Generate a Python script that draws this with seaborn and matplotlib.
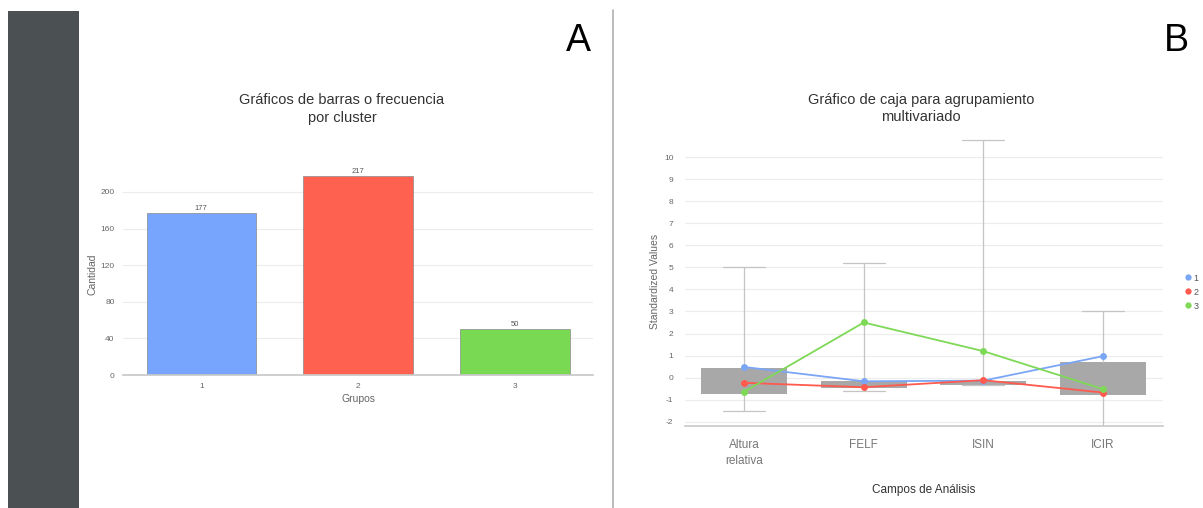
import matplotlib
matplotlib.use("Agg")
import matplotlib.pyplot as plt
import seaborn as sns
import pandas as pd
import numpy as np
from matplotlib.lines import Line2D
from matplotlib.patches import Rectangle

sns.set_theme(style="white")
plt.rcParams['font.family'] = ['Liberation Sans', 'DejaVu Sans']
plt.rcParams['axes.unicode_minus'] = False

# ---------------- data ----------------
grupos = ["1", "2", "3"]
cantidad = [177, 217, 50]
bar_colors = ["#77a4fc", "#ff6150", "#79d952"]

campos = ["Altura\nrelativa", "FELF", "ISIN", "ICIR"]
box_q1 = [-0.75, -0.47, -0.32, -0.77]
box_q3 = [0.42, -0.15, -0.14, 0.71]
box_med = [-0.15, -0.30, -0.22, -0.05]
whis_lo = [-1.50, -0.61, -0.32, -2.20]
whis_hi = [5.00, 5.22, 10.78, 3.00]

cluster_1 = [0.48, -0.17, -0.14, 0.97]
cluster_2 = [-0.24, -0.44, -0.12, -0.68]
cluster_3 = [-0.64, 2.50, 1.20, -0.52]
clusters = ["1", "2", "3"]
line_colors = ["#7aa6f5", "#ff5a4e", "#7ed957"]

yticks_a = [0, 40, 80, 120, 160, 200]
yticks_b = list(range(-2, 11))

# ---------------- figure ----------------
W, H = 1203, 508
fig = plt.figure(figsize=(W / 100, H / 100), dpi=100)
fig.patch.set_facecolor("white")

# dark side panel and divider
fig.add_artist(Rectangle((8 / W, 0), 71 / W, 1 - 11 / H, transform=fig.transFigure,
                         facecolor="#4b5052", edgecolor="none", zorder=-5))
fig.add_artist(Line2D([612.5 / W, 612.5 / W], [0, 1 - 10 / H], transform=fig.transFigure,
                      color="#b0b0b0", lw=1.2))

fig.text(578 / W, 1 - 41 / H, "A", fontsize=27, ha="center", va="center", color="black")
fig.text(1176 / W, 1 - 41 / H, "B", fontsize=27, ha="center", va="center", color="black")

tick_gray = "#666666"
grid_gray = "#ececec"

# ---------------- panel A ----------------
axA = fig.add_axes([123 / W, 1 - 375 / H, 470 / W, (375 - 173.7) / H])
dfA = pd.DataFrame({"Grupos": grupos, "Cantidad": cantidad})
sns.barplot(data=dfA, x="Grupos", y="Cantidad", hue="Grupos", palette=bar_colors,
            width=0.7, legend=False, ax=axA, edgecolor="#8a8a8a", linewidth=0.5,
            saturation=1)
for cont in axA.containers:
    axA.bar_label(cont, fontsize=5.5, color="#555555", padding=1)
axA.set_ylim(0, 220)
axA.set_xlim(-0.5, 2.5)
axA.set_yticks(yticks_a)
axA.yaxis.grid(True, color=grid_gray, lw=0.8)
axA.set_axisbelow(True)
for s in ["top", "right", "left"]:
    axA.spines[s].set_visible(False)
axA.spines["bottom"].set_color("#c8c8c8")
axA.tick_params(axis="y", length=0, labelsize=6, labelcolor=tick_gray, pad=6)
axA.tick_params(axis="x", length=3, color="#c8c8c8", labelsize=6, labelcolor=tick_gray, pad=3)
axA.set_xlabel("Grupos", fontsize=7.5, color=tick_gray, labelpad=3)
axA.set_ylabel("Cantidad", fontsize=7.5, color=tick_gray, labelpad=2)
fig.text(342 / W, 1 - 100 / H, "Gráficos de barras o frecuencia", fontsize=10.5,
         ha="center", va="center", color="#333333")
fig.text(342 / W, 1 - 118 / H, "por cluster", fontsize=10.5,
         ha="center", va="center", color="#333333")

# ---------------- panel B ----------------
axB = fig.add_axes([684.5 / W, 1 - 426 / H, 478 / W, (426 - 137.5) / H])
stats = [dict(q1=a, q3=b, med=m, whislo=lo, whishi=hi, label=c)
         for a, b, m, lo, hi, c in zip(box_q1, box_q3, box_med, whis_lo, whis_hi, campos)]
pos = np.arange(len(campos))
axB.bxp(stats, positions=pos, widths=0.72, capwidths=0.35, patch_artist=True,
        showfliers=False,
        boxprops=dict(facecolor="#a8a8a8", edgecolor="none", lw=0),
        whiskerprops=dict(color="#c4c4c4", lw=0.9),
        capprops=dict(color="#c4c4c4", lw=0.9),
        medianprops=dict(lw=0, color="#a8a8a8"), zorder=2)

dfB = pd.DataFrame({
    "pos": np.concatenate([pos, pos, pos]),
    "valor": cluster_1 + cluster_2 + cluster_3,
    "cluster": [clusters[0]] * 4 + [clusters[1]] * 4 + [clusters[2]] * 4,
})
sns.lineplot(data=dfB, x="pos", y="valor", hue="cluster", palette=line_colors,
             marker="o", markersize=5, markeredgewidth=0, lw=1.3, ax=axB,
             legend=False, zorder=3)

axB.set_xlim(-0.5, 3.5)
axB.set_ylim(-2.2, 10.9)
axB.set_yticks(yticks_b)
axB.set_xticks(pos)
axB.set_xticklabels(campos, linespacing=1.5)
axB.yaxis.grid(True, color=grid_gray, lw=0.8)
axB.set_axisbelow(True)
for s in ["top", "right", "left"]:
    axB.spines[s].set_visible(False)
axB.spines["bottom"].set_color("#c8c8c8")
axB.spines["bottom"].set_linewidth(1.2)
axB.tick_params(axis="y", length=0, labelsize=6, labelcolor=tick_gray, pad=8)
axB.tick_params(axis="x", length=3, color="#c8c8c8", labelsize=8.5, labelcolor="#777777", pad=6)
axB.set_xlabel("Campos de Análisis", fontsize=8.5, color="#333333", labelpad=12)
axB.set_ylabel("Standardized Values", fontsize=7.5, color=tick_gray, labelpad=3)

fig.text(921 / W, 1 - 100 / H, "Gráfico de caja para agrupamiento", fontsize=10.5,
         ha="center", va="center", color="#333333")
fig.text(921 / W, 1 - 117 / H, "multivariado", fontsize=10.5,
         ha="center", va="center", color="#333333")

handles = [Line2D([], [], marker="o", ls="none", color=c, markersize=3.5) for c in line_colors]
fig.legend(handles, clusters, loc="upper left", bbox_to_anchor=(1180 / W, 1 - 270 / H),
           frameon=False, fontsize=6.5, handletextpad=0.1, labelspacing=0.55,
           handlelength=1.0, borderaxespad=0, labelcolor="#555555")

fig.savefig("out.png", dpi=100, facecolor="white")
